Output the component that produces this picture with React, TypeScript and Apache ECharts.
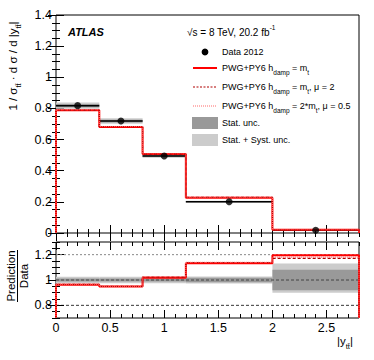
import React, { useEffect, useRef } from "react";
import * as echarts from "echarts";

// ---- data ----
const binEdges = [0, 0.4, 0.8, 1.2, 2.0, 2.8];
const binCenters = [0.2, 0.6, 1.0, 1.6, 2.4];
const dataValues = [0.818, 0.719, 0.495, 0.201, 0.0175];
const predNominal = [0.788, 0.681, 0.507, 0.227, 0.021];
const predMu2 = [0.789, 0.683, 0.506, 0.229, 0.02];
const predHdamp2 = [0.792, 0.684, 0.509, 0.231, 0.021];
const ratioNominal = [0.963, 0.948, 1.018, 1.133, 1.195];
const ratioMu2 = [0.965, 0.95, 1.022, 1.138, 1.17];
const ratioHdamp2 = [0.968, 0.952, 1.026, 1.14, 1.18];
const statUp = [0.012, 0.012, 0.012, 0.018, 0.08];
const statDown = [0.012, 0.012, 0.012, 0.018, 0.08];
const totUp = [0.025, 0.025, 0.025, 0.028, 0.13];
const totDown = [0.025, 0.025, 0.025, 0.028, 0.1];

const xMajor = [0, 0.5, 1, 1.5, 2, 2.5];
const topYMajor = [0, 0.2, 0.4, 0.6, 0.8, 1, 1.2, 1.4];
const lowYMajor = [0.8, 1, 1.2];

const FONT = "Liberation Sans";
const RED = "#ff0000";
const DARKRED = "#b00000";
const PINK = "#ff6a6a";
const STAT = "#999999";
const SYST = "#cccccc";

function range(a: number, b: number, step: number) {
  const out: number[] = [];
  const n = Math.round((b - a) / step);
  for (let i = 0; i <= n; i++) out.push(+(a + i * step).toFixed(4));
  return out;
}

function steps(vals: number[], base: number) {
  const pts: number[][] = [[binEdges[0], base]];
  vals.forEach((v, i) => {
    pts.push([binEdges[i], v]);
    pts.push([binEdges[i + 1], v]);
  });
  pts.push([binEdges[binEdges.length - 1], base]);
  return pts;
}

const rectItem = (fill: string) => (params: any, api: any) => {
  const p0 = api.coord([api.value(0), api.value(3)]);
  const p1 = api.coord([api.value(1), api.value(2)]);
  return {
    type: "rect",
    shape: { x: p0[0], y: p0[1], width: p1[0] - p0[0], height: p1[1] - p0[1] },
    style: { fill },
  };
};

const hlineItem = (params: any, api: any) => {
  const p0 = api.coord([api.value(0), api.value(2)]);
  const p1 = api.coord([api.value(1), api.value(2)]);
  return {
    type: "line",
    shape: { x1: p0[0], y1: p0[1], x2: p1[0], y2: p1[1] },
    style: { stroke: "#000", lineWidth: 1.5 },
  };
};

function xAxes(grid: number, labels: boolean) {
  const minors = range(0, 2.8, 0.1);
  const base = {
    gridIndex: grid,
    type: "value",
    min: 0,
    max: 2.8,
    axisLine: { show: false },
    splitLine: { show: false },
  };
  return [
    {
      ...base,
      position: "bottom",
      axisTick: { inside: true, length: 8, customValues: xMajor, lineStyle: { color: "#000" } },
      axisLabel: labels
        ? { show: true, customValues: xMajor, fontFamily: FONT, fontSize: 12.5, color: "#000", margin: 3 }
        : { show: false },
    },
    {
      ...base,
      position: "bottom",
      axisTick: { inside: true, length: 4, customValues: minors, lineStyle: { color: "#000" } },
      axisLabel: { show: false },
    },
    {
      ...base,
      position: "top",
      axisTick: { inside: true, length: 8, customValues: xMajor, lineStyle: { color: "#000" } },
      axisLabel: { show: false },
    },
    {
      ...base,
      position: "top",
      axisTick: { inside: true, length: 4, customValues: minors, lineStyle: { color: "#000" } },
      axisLabel: { show: false },
    },
  ];
}

function yAxes(grid: number, min: number, max: number, majors: number[]) {
  const minors = range(min, max, 0.05);
  const base = {
    gridIndex: grid,
    type: "value",
    min,
    max,
    axisLine: { show: false },
    splitLine: { show: false },
  };
  return [
    {
      ...base,
      position: "left",
      axisTick: { inside: true, length: 8, customValues: majors, lineStyle: { color: "#000" } },
      axisLabel: {
        show: true,
        customValues: majors,
        fontFamily: FONT,
        fontSize: 12.5,
        color: "#000",
        margin: 4,
        formatter: (v: number) => String(+v.toFixed(2)),
      },
    },
    {
      ...base,
      position: "left",
      axisTick: { inside: true, length: 4, customValues: minors, lineStyle: { color: "#000" } },
      axisLabel: { show: false },
    },
    {
      ...base,
      position: "right",
      axisTick: { inside: true, length: 8, customValues: majors, lineStyle: { color: "#000" } },
      axisLabel: { show: false },
    },
    {
      ...base,
      position: "right",
      axisTick: { inside: true, length: 4, customValues: minors, lineStyle: { color: "#000" } },
      axisLabel: { show: false },
    },
  ];
}

const richBase = {
  sub: { fontSize: 6.5, fontFamily: FONT, color: "#000", verticalAlign: "bottom", lineHeight: 16 },
  sup: { fontSize: 6.5, fontFamily: FONT, color: "#000", verticalAlign: "top", lineHeight: 16 },
  n: { fontSize: 9, fontFamily: FONT, color: "#000", verticalAlign: "middle", lineHeight: 16 },
};

export default function App() {
  const ref = useRef<HTMLDivElement>(null);
  useEffect(() => {
    if (!ref.current) return;
    const chart = echarts.init(ref.current, null, { renderer: "svg" });

    const topBandTot = dataValues.map((d, i) => [binEdges[i], binEdges[i + 1], d * (1 - totDown[i]), d * (1 + totUp[i])]);
    const topBandStat = dataValues.map((d, i) => [binEdges[i], binEdges[i + 1], d * (1 - statDown[i]), d * (1 + statUp[i])]);
    const lowBandTot = binCenters.map((_, i) => [binEdges[i], binEdges[i + 1], 1 - totDown[i], 1 + totUp[i]]);
    const lowBandStat = binCenters.map((_, i) => [binEdges[i], binEdges[i + 1], 1 - statDown[i], 1 + statUp[i]]);
    const dataLines = dataValues.map((d, i) => [binEdges[i], binEdges[i + 1], d]);

    const T = { xAxisIndex: 0, yAxisIndex: 0 };
    const L = { xAxisIndex: 4, yAxisIndex: 4 };
    const lineBase = { type: "line", showSymbol: false, symbol: "none", silent: true };

    const option: any = {
      animation: false,
      grid: [
        { left: 56, top: 15, width: 303, height: 218, show: true, borderColor: "#000", borderWidth: 1, backgroundColor: "transparent" },
        { left: 56, top: 242, width: 303, height: 76, show: true, borderColor: "#000", borderWidth: 1, backgroundColor: "transparent" },
      ],
      xAxis: [...xAxes(0, false), ...xAxes(1, true)],
      yAxis: [...yAxes(0, 0, 1.4, topYMajor), ...yAxes(1, 0.7, 1.3, lowYMajor)],
      series: [
        // top panel
        { type: "custom", ...T, renderItem: rectItem(SYST), data: topBandTot, silent: true, z: 1 },
        { type: "custom", ...T, renderItem: rectItem(STAT), data: topBandStat, silent: true, z: 2 },
        { type: "custom", ...T, renderItem: hlineItem, data: dataLines, silent: true, z: 3 },
        { ...lineBase, ...T, data: steps(predNominal, 0), lineStyle: { color: RED, width: 2 }, z: 4 },
        { ...lineBase, ...T, data: steps(predMu2, 0), lineStyle: { color: DARKRED, width: 1.2, type: [3, 2] }, z: 5 },
        { ...lineBase, ...T, data: steps(predHdamp2, 0), lineStyle: { color: PINK, width: 1.2, type: [1, 1] }, z: 6 },
        {
          type: "scatter",
          ...T,
          data: binCenters.map((c, i) => [c, dataValues[i]]),
          symbol: "circle",
          symbolSize: 7,
          itemStyle: { color: "#000" },
          silent: true,
          z: 7,
        },
        // lower panel
        { type: "custom", ...L, renderItem: rectItem(SYST), data: lowBandTot, silent: true, z: 1 },
        { type: "custom", ...L, renderItem: rectItem(STAT), data: lowBandStat, silent: true, z: 2 },
        { ...lineBase, ...L, data: [[0, 1.2], [2.8, 1.2]], lineStyle: { color: "#888", width: 1, type: [2, 2] }, z: 3 },
        { ...lineBase, ...L, data: [[0, 1], [2.8, 1]], lineStyle: { color: "#444", width: 1, type: [3, 2] }, z: 3 },
        { ...lineBase, ...L, data: [[0, 0.8], [2.8, 0.8]], lineStyle: { color: "#000", width: 0.8, type: [3, 2] }, z: 3 },
        { ...lineBase, ...L, data: steps(ratioNominal, 0.7), lineStyle: { color: RED, width: 2 }, z: 4 },
        { ...lineBase, ...L, data: steps(ratioMu2, 0.7), lineStyle: { color: DARKRED, width: 1.2, type: [3, 2] }, z: 5 },
        { ...lineBase, ...L, data: steps(ratioHdamp2, 0.7), lineStyle: { color: PINK, width: 1.2, type: [1, 1] }, z: 6 },
      ],
      graphic: [
        { type: "text", x: 68, y: 32, style: { text: "ATLAS", font: `italic bold 11px "${FONT}"`, fill: "#000", verticalAlign: "middle" } },
        {
          type: "text",
          x: 187,
          y: 32,
          style: { text: "{n|√s = 8 TeV, 20.2 fb}{sup|-1}", rich: { ...richBase, n: { ...richBase.n, fontSize: 10 } }, verticalAlign: "middle" },
        },
        { type: "circle", shape: { cx: 205, cy: 52, r: 3.4 }, style: { fill: "#000" } },
        { type: "text", x: 222, y: 52, style: { text: "{n|Data 2012}", rich: richBase, verticalAlign: "middle" } },
        { type: "line", shape: { x1: 193, y1: 68, x2: 217, y2: 68 }, style: { stroke: RED, lineWidth: 2 } },
        { type: "text", x: 222, y: 68, style: { text: "{n|PWG+PY6 h}{sub|damp}{n| = m}{sub|t}", rich: richBase, verticalAlign: "middle" } },
        { type: "line", shape: { x1: 193, y1: 87, x2: 217, y2: 87 }, style: { stroke: DARKRED, lineWidth: 1.2, lineDash: [2, 1.5] } },
        { type: "text", x: 222, y: 87, style: { text: "{n|PWG+PY6 h}{sub|damp}{n| = m}{sub|t}{n|, μ = 2}", rich: richBase, verticalAlign: "middle" } },
        { type: "line", shape: { x1: 193, y1: 106, x2: 217, y2: 106 }, style: { stroke: PINK, lineWidth: 1.2, lineDash: [1, 1] } },
        { type: "text", x: 222, y: 106, style: { text: "{n|PWG+PY6 h}{sub|damp}{n| = 2*m}{sub|t}{n|, μ = 0.5}", rich: richBase, verticalAlign: "middle" } },
        { type: "rect", shape: { x: 192, y: 117, width: 26, height: 12 }, style: { fill: STAT } },
        { type: "text", x: 222, y: 123, style: { text: "{n|Stat. unc.}", rich: richBase, verticalAlign: "middle" } },
        { type: "rect", shape: { x: 192, y: 134, width: 26, height: 12 }, style: { fill: SYST } },
        { type: "text", x: 222, y: 140, style: { text: "{n|Stat. + Syst. unc.}", rich: richBase, verticalAlign: "middle" } },
        // y title top
        {
          type: "text",
          x: 13,
          y: 66,
          rotation: Math.PI / 2,
          style: {
            text: "{n|1 / σ}{sub|tt̄}{n| · d σ / d |y}{sub|tt̄}{n||}",
            rich: {
              n: { fontSize: 11.5, fontFamily: FONT, color: "#000", verticalAlign: "middle", lineHeight: 18 },
              sub: { fontSize: 7.5, fontFamily: FONT, color: "#000", verticalAlign: "bottom", lineHeight: 18 },
            },
            align: "center",
            verticalAlign: "middle",
          },
        },
        // y title bottom
        {
          type: "text",
          x: 11,
          y: 276,
          rotation: Math.PI / 2,
          style: { text: "Prediction", font: `11.5px "${FONT}"`, fill: "#000", align: "center", verticalAlign: "middle" },
        },
        { type: "line", shape: { x1: 17.5, y1: 250, x2: 17.5, y2: 302 }, style: { stroke: "#000", lineWidth: 1 } },
        {
          type: "text",
          x: 24,
          y: 276,
          rotation: Math.PI / 2,
          style: { text: "Data", font: `11.5px "${FONT}"`, fill: "#000", align: "center", verticalAlign: "middle" },
        },
        // x title
        {
          type: "text",
          x: 337,
          y: 341,
          style: {
            text: "{n||y}{sub|tt̄}{n||}",
            rich: {
              n: { fontSize: 11.5, fontFamily: FONT, color: "#000", verticalAlign: "middle", lineHeight: 18 },
              sub: { fontSize: 7.5, fontFamily: FONT, color: "#000", verticalAlign: "bottom", lineHeight: 18 },
            },
            verticalAlign: "middle",
          },
        },
      ],
    };
    chart.setOption(option);
    return () => chart.dispose();
  }, []);
  return <div ref={ref} style={{ width: 374, height: 360, position: "absolute", left: 0, top: 0 }} />;
}
